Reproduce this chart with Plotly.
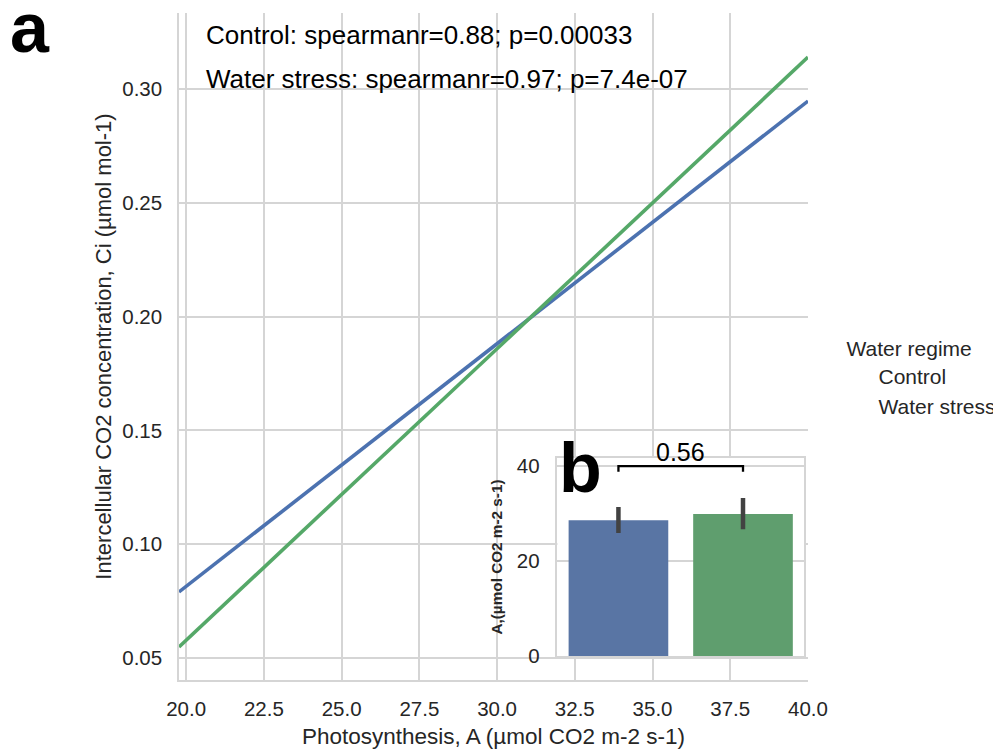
import plotly.graph_objects as go

# ---------------- data ----------------
groups = ["Control", "Water stress"]
colors_line = ["#4C72B0", "#55A868"]
colors_bar = ["#5975A4", "#5F9E6E"]

# regression fit lines (Photosynthesis A vs Ci), endpoints at axis limits
fit_x = [19.77, 40.0]
fit_control = [0.079, 0.2947]
fit_stress = [0.0548, 0.314]

stats_text = [
    "Control: spearmanr=0.88; p=0.00033",
    "Water stress: spearmanr=0.97; p=7.4e-07",
]

# inset bar chart: mean A with CI
bar_mean = [28.6, 29.9]
ci_high = [31.4, 33.3]
ci_low = [25.9, 26.7]
p_value_text = "0.56"
bracket_y = 40.0
bracket_drop = 1.2

x_ticks = [20.0, 22.5, 25.0, 27.5, 30.0, 32.5, 35.0, 37.5, 40.0]
y_ticks = [0.05, 0.10, 0.15, 0.20, 0.25, 0.30]
inset_ticks = [0, 20, 40]

FONT = "Liberation Sans, Arial, sans-serif"
TXT = "#262626"
GRID = "#d5d5d5"

fig = go.Figure()

for name, ys, col in zip(groups, [fit_control, fit_stress], colors_line):
    fig.add_trace(go.Scatter(x=fit_x, y=ys, mode="lines", line=dict(color=col, width=3.6),
                             showlegend=False, xaxis="x", yaxis="y"))

# legend entries (invisible markers, like the reference)
for name in groups:
    fig.add_trace(go.Scatter(x=[None], y=[None], mode="markers", name=name,
                             marker=dict(color="rgba(0,0,0,0)", size=1),
                             showlegend=True, xaxis="x", yaxis="y"))

# inset bars
err_plus = [h - m for h, m in zip(ci_high, bar_mean)]
err_minus = [m - l for m, l in zip(bar_mean, ci_low)]
fig.add_trace(go.Bar(x=[0, 1], y=bar_mean, width=0.8, marker=dict(color=colors_bar, line=dict(width=0)),
                     error_y=dict(type="data", array=err_plus, arrayminus=err_minus,
                                  color="#424242", thickness=4.5, width=0),
                     showlegend=False, xaxis="x2", yaxis="y2"))
# significance bracket
fig.add_trace(go.Scatter(x=[0, 0, 1, 1],
                         y=[bracket_y - bracket_drop, bracket_y, bracket_y, bracket_y - bracket_drop],
                         mode="lines", line=dict(color="black", width=2.3),
                         showlegend=False, xaxis="x2", yaxis="y2", cliponaxis=False))

inset_x = [0.6016, 0.9937]
inset_y = [0.036, 0.3328]

annotations = []
for i, t in enumerate(stats_text):
    annotations.append(dict(text=t, xref="paper", yref="paper", x=0.039, y=0.967 - i * 0.066,
                            xanchor="left", yanchor="middle", showarrow=False,
                            font=dict(family=FONT, size=26, color="black")))
annotations.append(dict(text="<b>a</b>", xref="paper", yref="paper", x=-0.2365, y=0.977,
                        xanchor="center", yanchor="middle", showarrow=False,
                        font=dict(family=FONT, size=70, color="black")))
annotations.append(dict(text="<b>b</b>", xref="paper", yref="paper", x=0.638, y=0.318,
                        xanchor="center", yanchor="middle", showarrow=False,
                        font=dict(family=FONT, size=70, color="black")))
annotations.append(dict(text=p_value_text, xref="x2", yref="y2", x=0.5, y=bracket_y,
                        xanchor="center", yanchor="bottom", showarrow=False, yshift=-2,
                        font=dict(family=FONT, size=25, color="black")))

fig.update_layout(
    width=993, height=741,
    margin=dict(l=171, r=193, t=5, b=69, autoexpand=False),
    paper_bgcolor="white", plot_bgcolor="white",
    font=dict(family=FONT, color=TXT, size=20),
    xaxis=dict(domain=[0, 1], range=[19.77, 40.0], tickvals=x_ticks,
               ticktext=[f"{v:.1f}" for v in x_ticks], automargin=False,
               showgrid=True, gridcolor=GRID, gridwidth=1.5, zeroline=False,
               showline=True, linecolor=GRID, linewidth=1.5, ticks="", ticklabelstandoff=10,
               tickfont=dict(size=20.5, color=TXT),
               title=dict(text="Photosynthesis, A (µmol CO2 m-2 s-1)", standoff=12,
                          font=dict(size=22.5, color=TXT))),
    yaxis=dict(domain=[0, 1], range=[0.0403, 0.3334], tickvals=y_ticks,
               ticktext=[f"{v:.2f}" for v in y_ticks], automargin=False,
               showgrid=True, gridcolor=GRID, gridwidth=1.5, zeroline=False,
               showline=True, linecolor=GRID, linewidth=1.5, ticks="", ticklabelstandoff=11,
               tickfont=dict(size=20.5, color=TXT),
               title=dict(text="Intercellular CO2 concentration, Ci (µmol mol-1)", standoff=5,
                          font=dict(size=22, color=TXT))),
    xaxis2=dict(domain=inset_x, anchor="y2", range=[-0.49, 1.49], showticklabels=False,
                showgrid=False, zeroline=False, showline=True, mirror=True, automargin=False,
                linecolor=GRID, linewidth=1.5, ticks=""),
    yaxis2=dict(domain=inset_y, anchor="x2", range=[0, 41.7], tickvals=inset_ticks,
                showgrid=True, gridcolor=GRID, gridwidth=1.5, zeroline=False, automargin=False,
                showline=True, mirror=True, linecolor=GRID, linewidth=1.5, ticks="",
                ticklabelstandoff=12, tickfont=dict(size=20.5, color=TXT),
                title=dict(text="<b>A,(µmol CO2 m-2 s-1)</b>", standoff=10,
                           font=dict(size=15.3, color=TXT))),
    legend=dict(x=1.058, xanchor="left", y=0.527, yanchor="top", indentation=-6,
                title=dict(text="Water regime", font=dict(size=21, color=TXT)),
                font=dict(size=21, color=TXT), itemwidth=30, bgcolor="rgba(0,0,0,0)",
                tracegroupgap=0),
    annotations=annotations,
    bargap=0.2,
)

fig.write_html("out.html")
